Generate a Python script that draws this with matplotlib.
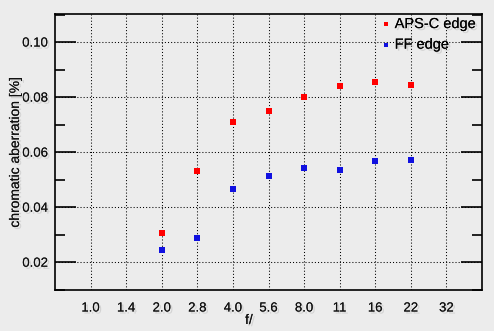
import matplotlib
matplotlib.use("Agg")
import matplotlib.pyplot as plt
import matplotlib.patheffects as pe
from matplotlib.ticker import MultipleLocator, FormatStrFormatter

apertures = ["1.0", "1.4", "2.0", "2.8", "4.0", "5.6", "8.0", "11", "16", "22", "32"]
aps_c_f = ["2.0", "2.8", "4.0", "5.6", "8.0", "11", "16", "22"]
aps_c_vals = [0.0305, 0.0531, 0.0709, 0.0749, 0.0800, 0.0840, 0.0855, 0.0844]
ff_f = ["2.0", "2.8", "4.0", "5.6", "8.0", "11", "16", "22"]
ff_vals = [0.0244, 0.0287, 0.0465, 0.0513, 0.0542, 0.0535, 0.0568, 0.0572]

bg = "#ececec"
plt.rcParams["font.family"] = ["Liberation Sans", "DejaVu Sans"]
fig = plt.figure(figsize=(4.94, 3.31), dpi=100, facecolor=bg)
ax = fig.add_axes([55/494, 1-290/331, (482-55)/494, (290-14)/331], facecolor=bg)

shadow = [pe.withSimplePatchShadow(offset=(1.5, -1.5), shadow_rgbFace="#999999", alpha=0.3), pe.Normal()]

pos = {a: i for i, a in enumerate(apertures)}
ax.scatter([pos[a] for a in aps_c_f], aps_c_vals, marker="s", s=18, color="#ff0000", label="APS-C edge", zorder=3, linewidths=0)
ax.scatter([pos[a] for a in ff_f], ff_vals, marker="s", s=18, color="#1010e0", label="FF edge", zorder=3, linewidths=0)

ax.set_xlim(-1, 11)
ax.set_ylim(0.0099, 0.1102)
ax.set_xticks(range(len(apertures)))
ax.set_xticklabels(apertures)
ax.yaxis.set_major_locator(MultipleLocator(0.02))
ax.yaxis.set_minor_locator(MultipleLocator(0.01))
ax.yaxis.set_major_formatter(FormatStrFormatter("%.2f"))

ax.grid(True, which="major", linestyle=(0, (1, 2)), color="black", linewidth=0.75)
ax.tick_params(axis="x", length=0, labelsize=9.5, pad=9, labelcolor="#111111")
ax.tick_params(axis="y", which="major", direction="in", length=15, width=1.2, right=True, labelsize=9.5, pad=5, labelcolor="#111111")
ax.tick_params(axis="y", which="minor", direction="in", length=7, width=1.2, right=True)
for s in ax.spines.values():
    s.set_linewidth(1.2)

for lbl in ax.get_xticklabels() + ax.get_yticklabels():
    lbl.set_path_effects(shadow)

ax.set_xlabel("f/", fontsize=10, path_effects=shadow, color="#111111")
ax.xaxis.set_label_coords((249-55)/427, -(320-290)/276, transform=ax.transAxes)
ax.xaxis.label.set_verticalalignment("center")
ax.set_ylabel("chromatic aberration [%]", fontsize=10, path_effects=shadow, color="#111111")
ax.yaxis.set_label_coords(-(55-15)/427, 0.5)
ax.yaxis.label.set_verticalalignment("center")

leg = ax.legend(loc="upper right", frameon=False, fontsize=10.5, handletextpad=0.0,
                markerscale=0.8, borderaxespad=0.0, labelspacing=0.45, handlelength=1.2,
                bbox_to_anchor=(1.0, 1.01))
for t in leg.get_texts():
    t.set_path_effects(shadow)

fig.savefig("out.png", dpi=100, facecolor=bg)
